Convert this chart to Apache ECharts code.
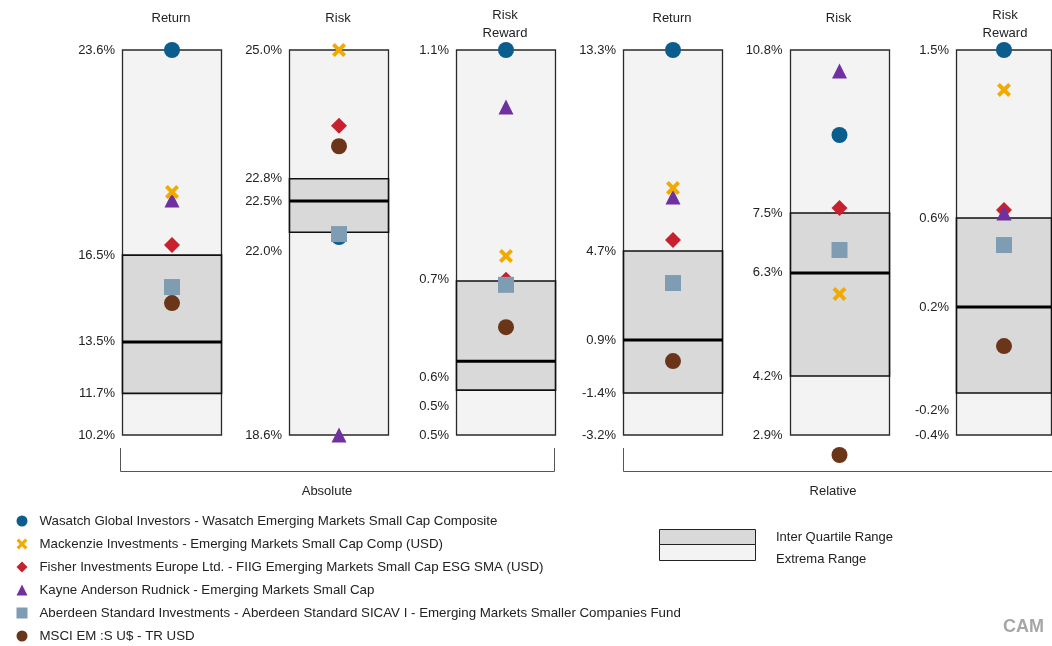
<!DOCTYPE html>
<html>
<head>
<meta charset="utf-8">
<script src="https://cdn.jsdelivr.net/npm/echarts@6/dist/echarts.min.js"></script>
<style>
html,body{margin:0;padding:0;background:#fff;}
#chart{width:1052px;height:646px;}
</style>
</head>
<body>
<div id="chart"></div>
<script>
// ---------- DATA ----------
const panelTitles = ['Return', 'Risk', 'Risk\nReward', 'Return', 'Risk', 'Risk\nReward'];
const groupNames = ['Absolute', 'Relative'];

// peer-group box statistics per panel
const boxMax = [23.6, 25.0, 1.1, 13.3, 10.8, 1.5];
const boxQ3  = [16.46, 22.86, 0.74, 4.685, 7.455, 0.671];
const boxMed = [13.44, 22.49, 0.615, 0.87, 6.224, 0.2315];
const boxQ1  = [11.65, 21.97, 0.57, -1.40, 4.11, -0.193];
const boxMin = [10.2, 18.6, 0.5, -3.2, 2.9, -0.4];

// tick label texts and the values where they are shown, per panel
const tickText = [
  ['23.6%', '16.5%', '13.5%', '11.7%', '10.2%'],
  ['25.0%', '22.8%', '22.5%', '22.0%', '18.6%'],
  ['1.1%', '0.7%', '0.6%', '0.5%', '0.5%'],
  ['13.3%', '4.7%', '0.9%', '-1.4%', '-3.2%'],
  ['10.8%', '7.5%', '6.3%', '4.2%', '2.9%'],
  ['1.5%', '0.6%', '0.2%', '-0.2%', '-0.4%']
];
const tickPos = [
  [23.6, 16.46, 13.44, 11.65, 10.2],
  [25.0, 22.87, 22.49, 21.65, 18.6],
  [1.1, 0.742, 0.589, 0.544, 0.5],
  [13.3, 4.685, 0.87, -1.40, -3.2],
  [10.8, 7.455, 6.244, 4.11, 2.9],
  [1.5, 0.671, 0.2315, -0.277, -0.4]
];

// series names
const seriesNames = [
  'Wasatch Global Investors - Wasatch Emerging Markets Small Cap Composite',
  'Mackenzie Investments - Emerging Markets Small Cap Comp (USD)',
  'Fisher Investments Europe Ltd. - FIIG Emerging Markets Small Cap ESG SMA (USD)',
  'Kayne Anderson Rudnick - Emerging Markets Small Cap',
  'Aberdeen Standard Investments - Aberdeen Standard SICAV I - Emerging Markets Smaller Companies Fund',
  'MSCI EM :S U$ - TR USD'
];
// values per series across panels [AbsReturn, AbsRisk, AbsRR, RelReturn, RelRisk, RelRR]
const wasatch   = [23.6, 21.89, 1.1, 13.3, 9.056, 1.5];
const mackenzie = [18.66, 25.0, 0.779, 7.385, 5.793, 1.303];
const fisher    = [16.81, 23.74, 0.742, 5.156, 7.557, 0.71];
const kayne     = [18.38, 18.6, 1.011, 7.0, 10.37, 0.695];
const aberdeen  = [15.35, 21.94, 0.734, 3.313, 6.696, 0.5375];
const msci      = [14.79, 23.40, 0.668, -0.03, 2.489, 0.039];
const seriesValues = [wasatch, mackenzie, fisher, kayne, aberdeen, msci];

// ---------- STYLE ----------
const FONT = '"Liberation Sans", Arial, sans-serif';
const xPath = 'path://M0,2 L2,0 L5,3 L8,0 L10,2 L7,5 L10,8 L8,10 L5,7 L2,10 L0,8 L3,5 Z';
const seriesStyle = [
  {symbol: 'circle', size: 16, color: '#0b5d8e', z: 3},
  {symbol: xPath, size: 14, color: '#f2aa00', z: 6},
  {symbol: 'diamond', size: 16, color: '#c8202f', z: 4},
  {symbol: 'triangle', size: 15, color: '#7030a0', z: 5},
  {symbol: 'rect', size: 16, color: '#7f9db2', z: 7},
  {symbol: 'circle', size: 16, color: '#6a3518', z: 8}
];
const gridLeft = [122, 289, 456, 623, 789.5, 956];
const gridTop = 50, gridH = 385, gridW = 100;

const grids = [], xAxes = [], yAxes = [], series = [];
gridLeft.forEach((l, p) => {
  grids.push({left: l, top: gridTop, width: gridW, height: gridH});
  xAxes.push({type: 'category', gridIndex: p, data: [''], show: false, boundaryGap: true});
  yAxes.push({
    type: 'value', gridIndex: p, min: boxMin[p], max: boxMax[p],
    axisLine: {show: false}, axisTick: {show: false}, splitLine: {show: false},
    axisLabel: {
      customValues: tickPos[p],
      margin: 7, fontSize: 13, color: '#222', fontFamily: FONT,
      formatter: function (v) {
        let best = 0, bd = Infinity;
        tickPos[p].forEach((t, i) => { const d = Math.abs(t - v); if (d < bd) { bd = d; best = i; } });
        return tickText[p][best];
      }
    }
  });
  series.push({
    type: 'custom', xAxisIndex: p, yAxisIndex: p, z: 1, silent: true,
    data: [[0, boxMin[p], boxQ1[p], boxMed[p], boxQ3[p], boxMax[p]]],
    renderItem: function (params, api) {
      const bw = api.size([1, 0])[0];
      const pMin = api.coord([0, api.value(1)]);
      const pQ1 = api.coord([0, api.value(2)]);
      const pMed = api.coord([0, api.value(3)]);
      const pQ3 = api.coord([0, api.value(4)]);
      const pMax = api.coord([0, api.value(5)]);
      const x0 = Math.round(pMin[0] - bw / 2) + 0.5;
      const w = Math.round(bw) - 1;
      return {type: 'group', children: [
        {type: 'rect', shape: {x: x0, y: pMax[1], width: w, height: pMin[1] - pMax[1]},
         style: {fill: '#f3f3f3', stroke: '#2a2a2a', lineWidth: 1.3}},
        {type: 'rect', shape: {x: x0, y: pQ3[1], width: w, height: pQ1[1] - pQ3[1]},
         style: {fill: '#d9d9d9', stroke: '#111', lineWidth: 1.6}},
        {type: 'line', shape: {x1: x0, y1: pMed[1], x2: x0 + w, y2: pMed[1]},
         style: {stroke: '#000', lineWidth: 3}}
      ]};
    }
  });
});

seriesValues.forEach((vals, s) => {
  vals.forEach((v, p) => {
    series.push({
      type: 'scatter', name: seriesNames[s], xAxisIndex: p, yAxisIndex: p,
      data: [[0, v]], symbol: seriesStyle[s].symbol, symbolSize: seriesStyle[s].size,
      itemStyle: {color: seriesStyle[s].color, opacity: 1}, clip: false, z: seriesStyle[s].z,
      emphasis: {disabled: true}, silent: true
    });
  });
});

// ---------- GRAPHICS (titles, brackets, range legend) ----------
const graphic = [];
panelTitles.forEach((t, p) => {
  const two = t.indexOf('\n') >= 0;
  graphic.push({type: 'text', x: gridLeft[p] + gridW / 2 - 1, y: two ? 24 : 18,
    style: {text: t, fontSize: 13, fontFamily: FONT, fill: '#222', align: 'center', verticalAlign: 'middle', lineHeight: 18}});
});
const lineStyle = {stroke: '#555', lineWidth: 1};
// Absolute bracket
graphic.push({type: 'polyline', shape: {points: [[120.5, 448], [120.5, 471.5], [554.5, 471.5], [554.5, 448]]}, style: Object.assign({fill: null}, lineStyle)});
graphic.push({type: 'text', x: 327, y: 491, style: {text: groupNames[0], fontSize: 13, fontFamily: FONT, fill: '#222', align: 'center', verticalAlign: 'middle'}});
// Relative bracket
graphic.push({type: 'polyline', shape: {points: [[623.5, 448], [623.5, 471.5], [1060, 471.5]]}, style: Object.assign({fill: null}, lineStyle)});
graphic.push({type: 'text', x: 833, y: 491, style: {text: groupNames[1], fontSize: 13, fontFamily: FONT, fill: '#222', align: 'center', verticalAlign: 'middle'}});
// range legend
graphic.push({type: 'rect', shape: {x: 659.5, y: 529.5, width: 96, height: 15}, style: {fill: '#d9d9d9', stroke: '#222', lineWidth: 1}});
graphic.push({type: 'rect', shape: {x: 659.5, y: 544.5, width: 96, height: 16}, style: {fill: '#f3f3f3', stroke: '#222', lineWidth: 1}});
graphic.push({type: 'text', x: 776, y: 537, style: {text: 'Inter Quartile Range', fontSize: 13, fontFamily: FONT, fill: '#222', verticalAlign: 'middle'}});
graphic.push({type: 'text', x: 776, y: 559, style: {text: 'Extrema Range', fontSize: 13, fontFamily: FONT, fill: '#222', verticalAlign: 'middle'}});
graphic.push({type: 'text', x: 1003, y: 627, style: {text: 'CAM', fontSize: 18, fontWeight: 'bold', fontFamily: FONT, fill: '#a6a6a6', verticalAlign: 'middle'}});

const chart = echarts.init(document.getElementById('chart'), null, {renderer: 'canvas'});
chart.setOption({
  animation: false,
  backgroundColor: '#fff',
  textStyle: {fontFamily: FONT},
  grid: grids, xAxis: xAxes, yAxis: yAxes,
  legend: {
    orient: 'vertical', left: 16.5, top: 513, height: 140, padding: 0,
    itemWidth: 11, itemHeight: 11, itemGap: 7,
    selectedMode: false, data: seriesNames,
    textStyle: {fontSize: 13.3, color: '#222', fontFamily: FONT, padding: [0, 0, 0, 7], lineHeight: 16}
  },
  graphic: graphic,
  series: series
});
</script>
</body>
</html>
